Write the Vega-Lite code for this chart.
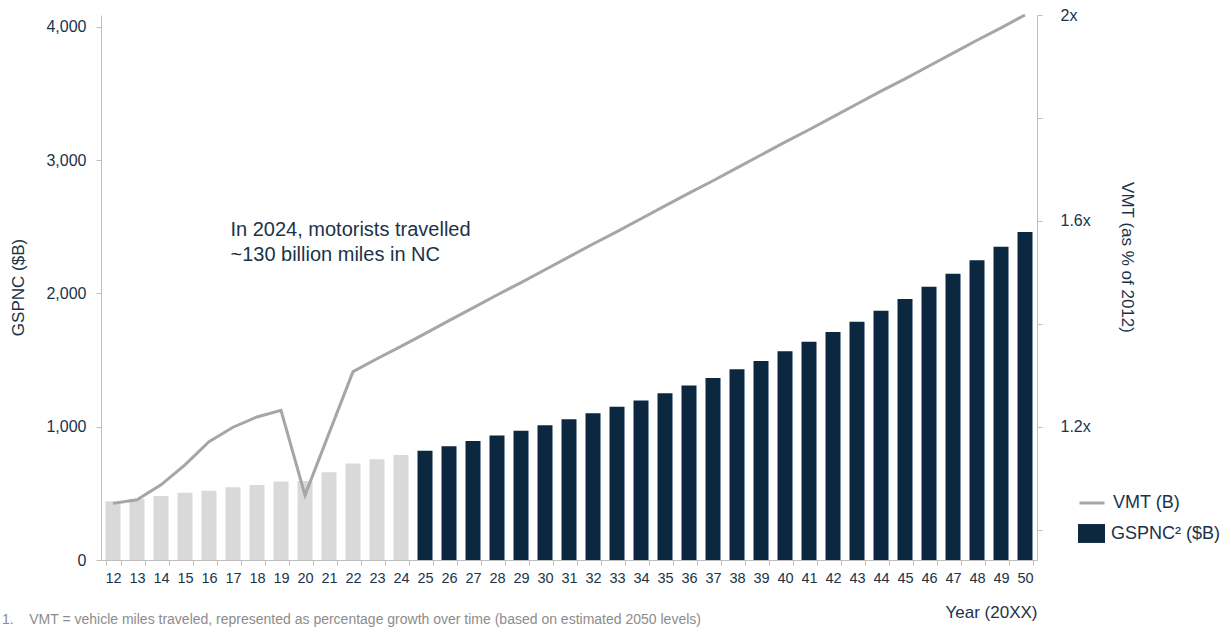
{
  "$schema": "https://vega.github.io/schema/vega-lite/v6.json",
  "width": 936,
  "height": 545,
  "autosize": {"type": "none"},
  "padding": {"left": 101, "top": 15, "right": 194, "bottom": 72},
  "background": "white",
  "config": {
    "view": {"stroke": null},
    "font": "Liberation Sans",
    "axis": {
      "grid": false,
      "labelFont": "Liberation Sans",
      "titleFont": "Liberation Sans",
      "labelColor": "#1b3349",
      "titleColor": "#1b3349",
      "domainColor": "#bfbfbf",
      "tickColor": "#bfbfbf",
      "tickSize": 5,
      "titleFontWeight": "normal",
      "titleFontSize": 17,
      "labelFontSize": 16
    },
    "legend": {"labelFont": "Liberation Sans", "labelColor": "#1b3349", "labelFontSize": 18}
  },
  "title": {
    "text": "1.\u00a0\u00a0\u00a0\u00a0VMT = vehicle miles traveled, represented as percentage growth over time (based on estimated 2050 levels)",
    "orient": "bottom",
    "anchor": "start",
    "frame": "group",
    "font": "Liberation Sans",
    "fontSize": 14,
    "fontWeight": "normal",
    "color": "#8c8c8c",
    "dx": -99,
    "dy": -7,
    "offset": 0
  },
  "data": {
    "values": [
      {"year": "12", "gspnc": 440, "vmt": 1.051, "phase": "hist"},
      {"year": "13", "gspnc": 458, "vmt": 1.058, "phase": "hist"},
      {"year": "14", "gspnc": 480, "vmt": 1.087, "phase": "hist"},
      {"year": "15", "gspnc": 505, "vmt": 1.126, "phase": "hist"},
      {"year": "16", "gspnc": 520, "vmt": 1.171, "phase": "hist"},
      {"year": "17", "gspnc": 545, "vmt": 1.199, "phase": "hist"},
      {"year": "18", "gspnc": 563, "vmt": 1.219, "phase": "hist"},
      {"year": "19", "gspnc": 588, "vmt": 1.232, "phase": "hist"},
      {"year": "20", "gspnc": 593, "vmt": 1.067, "phase": "hist"},
      {"year": "21", "gspnc": 658, "vmt": 1.187, "phase": "hist"},
      {"year": "22", "gspnc": 723, "vmt": 1.307, "phase": "hist"},
      {"year": "23", "gspnc": 755, "vmt": 1.332, "phase": "hist"},
      {"year": "24", "gspnc": 788, "vmt": 1.356, "phase": "hist"},
      {"year": "25", "gspnc": 820, "vmt": 1.381, "phase": "GSPNC² ($B)"},
      {"year": "26", "gspnc": 853, "vmt": 1.406, "phase": "GSPNC² ($B)"},
      {"year": "27", "gspnc": 893, "vmt": 1.431, "phase": "GSPNC² ($B)"},
      {"year": "28", "gspnc": 933, "vmt": 1.456, "phase": "GSPNC² ($B)"},
      {"year": "29", "gspnc": 970, "vmt": 1.480, "phase": "GSPNC² ($B)"},
      {"year": "30", "gspnc": 1010, "vmt": 1.505, "phase": "GSPNC² ($B)"},
      {"year": "31", "gspnc": 1055, "vmt": 1.530, "phase": "GSPNC² ($B)"},
      {"year": "32", "gspnc": 1100, "vmt": 1.555, "phase": "GSPNC² ($B)"},
      {"year": "33", "gspnc": 1150, "vmt": 1.579, "phase": "GSPNC² ($B)"},
      {"year": "34", "gspnc": 1197, "vmt": 1.604, "phase": "GSPNC² ($B)"},
      {"year": "35", "gspnc": 1250, "vmt": 1.629, "phase": "GSPNC² ($B)"},
      {"year": "36", "gspnc": 1308, "vmt": 1.654, "phase": "GSPNC² ($B)"},
      {"year": "37", "gspnc": 1365, "vmt": 1.678, "phase": "GSPNC² ($B)"},
      {"year": "38", "gspnc": 1430, "vmt": 1.703, "phase": "GSPNC² ($B)"},
      {"year": "39", "gspnc": 1493, "vmt": 1.728, "phase": "GSPNC² ($B)"},
      {"year": "40", "gspnc": 1565, "vmt": 1.753, "phase": "GSPNC² ($B)"},
      {"year": "41", "gspnc": 1638, "vmt": 1.777, "phase": "GSPNC² ($B)"},
      {"year": "42", "gspnc": 1710, "vmt": 1.802, "phase": "GSPNC² ($B)"},
      {"year": "43", "gspnc": 1788, "vmt": 1.827, "phase": "GSPNC² ($B)"},
      {"year": "44", "gspnc": 1870, "vmt": 1.852, "phase": "GSPNC² ($B)"},
      {"year": "45", "gspnc": 1958, "vmt": 1.876, "phase": "GSPNC² ($B)"},
      {"year": "46", "gspnc": 2050, "vmt": 1.901, "phase": "GSPNC² ($B)"},
      {"year": "47", "gspnc": 2148, "vmt": 1.926, "phase": "GSPNC² ($B)"},
      {"year": "48", "gspnc": 2248, "vmt": 1.951, "phase": "GSPNC² ($B)"},
      {"year": "49", "gspnc": 2350, "vmt": 1.975, "phase": "GSPNC² ($B)"},
      {"year": "50", "gspnc": 2460, "vmt": 2.000, "phase": "GSPNC² ($B)"}
    ]
  },
  "layer": [
    {
      "mark": {"type": "bar"},
      "encoding": {
        "x": {
          "field": "year",
          "type": "ordinal",
          "scale": {"paddingInner": 0.375, "paddingOuter": 0.1875},
          "axis": {
            "title": "Year (20XX)",
            "labelAngle": 0,
            "labelFontSize": 14.5,
            "labelPadding": 6,
            "tickBand": "extent",
            "titleX": 936,
            "titleY": 52,
            "titleAlign": "right",
            "titleAnchor": null,
            "titleBaseline": "middle"
          }
        },
        "y": {
          "field": "gspnc",
          "type": "quantitative",
          "scale": {"domain": [0, 4088], "nice": false},
          "axis": {
            "title": "GSPNC ($B)",
            "values": [0, 1000, 2000, 3000, 4000],
            "format": ",.0f",
            "labelPadding": 10,
            "titleX": -83,
            "titleY": 272,
            "titleAngle": -90,
            "titleAlign": "center",
            "titleBaseline": "middle"
          }
        },
        "fill": {
          "field": "phase",
          "type": "nominal",
          "scale": {"domain": ["hist", "GSPNC² ($B)"], "range": ["#d9d9d9", "#0b2840"]},
          "legend": {
            "title": null,
            "values": ["GSPNC² ($B)"],
            "orient": "none",
            "legendX": 977,
            "legendY": 505,
            "padding": 0,
            "symbolType": "M-1,-0.7H1V0.7H-1Z",
            "symbolSize": 729,
            "symbolStrokeWidth": 0,
            "labelOffset": 6
          }
        }
      }
    },
    {
      "mark": {"type": "line", "color": "#a6a6a6", "strokeWidth": 3},
      "encoding": {
        "x": {"field": "year", "type": "ordinal"},
        "y": {
          "field": "vmt",
          "type": "quantitative",
          "scale": {"domain": [0.941, 2.0], "nice": false, "zero": false},
          "axis": {
            "orient": "right",
            "title": "VMT (as % of 2012)",
            "values": [1.0, 1.2, 1.4, 1.6, 1.8, 2.0],
            "labelExpr": "datum.value == 2 ? '2x' : (abs(datum.value - 1.2) < 0.001 || abs(datum.value - 1.6) < 0.001) ? format(datum.value, '.1f') + 'x' : ''",
            "labelPadding": 18,
            "titleAngle": 90,
            "titleX": 89,
            "titleY": 242,
            "titleAlign": "center",
            "titleBaseline": "middle"
          }
        },
        "stroke": {
          "datum": "VMT (B)",
          "type": "nominal",
          "scale": {"range": ["#a6a6a6"]},
          "legend": {
            "title": null,
            "orient": "none",
            "legendX": 977,
            "legendY": 474,
            "padding": 0,
            "symbolType": "stroke",
            "symbolSize": 625,
            "symbolStrokeWidth": 3,
            "labelOffset": 7
          }
        }
      }
    },
    {
      "data": {
        "values": [
          {"year": "17", "yv": 2475, "label": "In 2024, motorists travelled"},
          {"year": "17", "yv": 2288, "label": "~130 billion miles in NC"}
        ]
      },
      "mark": {"type": "text", "align": "left", "baseline": "middle", "fontSize": 20, "color": "#1b3349", "font": "Liberation Sans"},
      "encoding": {
        "x": {"field": "year", "type": "ordinal", "bandPosition": 0.33},
        "y": {"field": "yv", "type": "quantitative", "scale": {"domain": [0, 4088], "nice": false}, "axis": null},
        "text": {"field": "label"}
      }
    }
  ],
  "resolve": {"scale": {"y": "independent", "fill": "independent", "stroke": "independent"}}
}
